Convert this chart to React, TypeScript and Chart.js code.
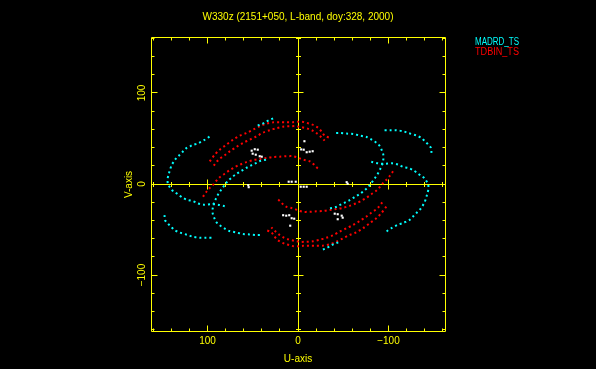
import React, { useEffect, useRef } from "react";
import { Chart, registerables } from "chart.js";

Chart.register(...registerables);

// ---------- text ----------
const TITLE = "W330z (2151+050, L-band, doy:328, 2000)";
const X_AXIS_TITLE = "U-axis";
const Y_AXIS_TITLE = "V-axis";
const SERIES_NAMES = ["MADRD_TS", "TDBIN_TS"];
const SERIES_COLORS = ["#00ffff", "#ff0000"];
const EXTRA_COLOR = "#ffffff";

// ---------- axes ----------
const U_LIMIT = 162.5;
const V_LIMIT = 161.5;
const X_TICK_VALUES = [100, 0, -100];
const X_TICK_LABELS = ["100", "0", "\u2212100"];
const Y_TICK_VALUES = [100, 0, -100];
const Y_TICK_LABELS = ["100", "0", "\u2212100"];
const MINOR_TICKS = [-160, -140, -120, -100, -80, -60, -40, -20, 0, 20, 40, 60, 80, 100, 120, 140, 160];
const MAJOR_TICKS = [-100, 0, 100];

// ---------- data: [u, v] in kilo-lambda ----------
// MADRD_TS
const MADRD_A = [[97.9,52.0],[103.4,48.4],[110.8,44.6],[116.4,42.9],[120.0,41.0],[123.8,39.1],[127.4,35.5],[131.0,31.9],[134.8,28.1],[137.3,24.5],[139.6,20.9],[141.0,17.1],[142.1,13.5],[143.2,9.9],[144.0,6.2],[144.0,0.7],[142.1,-3.0],[139.6,-6.6],[136.6,-8.5],[132.9,-11.4],[127.4,-15.1],[121.9,-17.6],[116.4,-18.7],[110.8,-21.3],[104.2,-22.7],[96.5,-22.2],[88.7,-22.7],[81.0,-24.4]];
const MADRD_A_CONJ = [[-97.9,-52.0],[-103.4,-48.4],[-110.8,-44.6],[-116.4,-42.9],[-120.0,-41.0],[-123.8,-39.1],[-127.4,-35.5],[-131.0,-31.9],[-134.8,-28.1],[-137.3,-24.5],[-139.6,-20.9],[-141.0,-17.1],[-142.1,-13.5],[-143.2,-9.9],[-144.0,-6.2],[-144.0,-0.7],[-142.1,3.0],[-139.6,6.6],[-136.6,8.5],[-132.9,11.4],[-127.4,15.1],[-121.9,17.6],[-116.4,18.7],[-110.8,21.3],[-104.2,22.7],[-96.5,22.2],[-88.7,22.7],[-81.0,24.4]];
const MADRD_B = [[35.4,26.7],[41.2,25.6],[45.6,23.4],[51.2,20.7],[56.7,17.9],[62.2,14.6],[67.7,11.3],[72.2,8.0],[76.6,4.2],[79.6,0.9],[85.1,-6.6],[88.7,-12.1],[90.6,-15.8],[93.1,-21.3],[94.3,-26.8],[94.3,-32.3],[93.1,-35.9],[90.6,-41.4],[86.9,-45.1],[81.3,-48.8],[75.8,-51.6],[68.5,-53.2],[61.1,-54.9],[53.7,-55.4],[46.4,-56.0],[39.0,-56.0]];
const MADRD_B_CONJ = [[-35.4,-26.7],[-41.2,-25.6],[-45.6,-23.4],[-51.2,-20.7],[-56.7,-17.9],[-62.2,-14.6],[-67.7,-11.3],[-72.2,-8.0],[-76.6,-4.2],[-79.6,-0.9],[-85.1,6.6],[-88.7,12.1],[-90.6,15.8],[-93.1,21.3],[-94.3,26.8],[-94.3,32.3],[-93.1,35.9],[-90.6,41.4],[-86.9,45.1],[-81.3,48.8],[-75.8,51.6],[-68.5,53.2],[-61.1,54.9],[-53.7,55.4],[-46.4,56.0],[-39.0,56.0]];
const MADRD_C = [[147.6,-34.1],[147.0,-39.6],[144.0,-43.3],[140.3,-46.9],[136.6,-50.5],[131.0,-53.2],[121.9,-56.0],[116.4,-57.9],[109.0,-59.0],[101.7,-59.0],[92.4,-59.0]];
const MADRD_C_CONJ = [[-147.6,34.1],[-147.0,39.6],[-144.0,43.3],[-140.3,46.9],[-136.6,50.5],[-131.0,53.2],[-121.9,56.0],[-116.4,57.9],[-109.0,59.0],[-101.7,59.0],[-92.4,59.0]];
const MADRD_D = [[44.5,64.1],[39.0,66.3],[35.1,68.5],[29.6,71.2],[24.6,72.9]];
const MADRD_D_CONJ = [[-44.5,-64.1],[-39.0,-66.3],[-35.1,-68.5],[-29.6,-71.2],[-24.6,-72.9]];

// TDBIN_TS
const TDBIN_A = [[97.6,24.8],[92.0,32.2],[86.5,37.7],[79.1,43.2],[71.8,48.7],[64.4,53.1],[57.0,56.0],[49.7,59.7],[42.3,63.3],[34.9,66.3],[27.6,67.7],[20.2,67.9],[12.8,67.9],[5.5,67.9],[-0.8,68.5],[-7.1,67.9],[-12.6,66.3],[-17.3,64.6],[-22.1,61.9],[-25.9,57.8],[-29.5,53.1],[-36.1,50.3]];
const TDBIN_A_CONJ = [[-97.6,-24.8],[-92.0,-32.2],[-86.5,-37.7],[-79.1,-43.2],[-71.8,-48.7],[-64.4,-53.1],[-57.0,-56.0],[-49.7,-59.7],[-42.3,-63.3],[-34.9,-66.3],[-27.6,-67.7],[-20.2,-67.9],[-12.8,-67.9],[-5.5,-67.9],[0.8,-68.5],[7.1,-67.9],[12.6,-66.3],[17.3,-64.6],[22.1,-61.9],[25.9,-57.8],[29.5,-53.1],[36.1,-50.3]];
const TDBIN_B = [[93.1,20.1],[89.8,24.5],[86.5,27.8],[81.0,31.6],[75.5,35.8],[68.1,40.7],[60.8,45.1],[53.4,48.7],[46.0,52.3],[38.7,56.4],[31.3,59.1],[23.9,61.3],[16.6,63.0],[9.2,63.5],[2.5,63.5],[-4.1,62.4],[-10.7,60.8],[-16.2,58.6],[-20.7,55.8],[-25.1,52.0],[-29.5,47.6]];
const TDBIN_B_CONJ = [[-93.1,-20.1],[-89.8,-24.5],[-86.5,-27.8],[-81.0,-31.6],[-75.5,-35.8],[-68.1,-40.7],[-60.8,-45.1],[-53.4,-48.7],[-46.0,-52.3],[-38.7,-56.4],[-31.3,-59.1],[-23.9,-61.3],[-16.6,-63.0],[-9.2,-63.5],[-2.5,-63.5],[4.1,-62.4],[10.7,-60.8],[16.2,-58.6],[20.7,-55.8],[25.1,-52.0],[29.5,-47.6]];
const TDBIN_C = [[105.0,-14.0],[101.2,-8.5],[97.6,-4.4],[93.9,-0.8],[90.2,3.6],[86.5,7.5],[81.0,11.3],[75.5,15.2],[69.9,18.5],[64.4,21.2],[57.0,24.0],[49.7,26.2],[42.3,27.5],[34.9,28.6],[27.6,29.7],[20.2,30.0],[12.8,30.5],[5.5,30.5],[0,28.9],[-3.8,27.3],[-7.4,26.4],[-12.6,25.1],[-16.2,22.6],[-19.9,19.0],[-23.6,15.4]];
const TDBIN_C_CONJ = [[-105.0,14.0],[-101.2,8.5],[-97.6,4.4],[-93.9,0.8],[-90.2,-3.6],[-86.5,-7.5],[-81.0,-11.3],[-75.5,-15.2],[-69.9,-18.5],[-64.4,-21.2],[-57.0,-24.0],[-49.7,-26.2],[-42.3,-27.5],[-34.9,-28.6],[-27.6,-29.7],[-20.2,-30.0],[-12.8,-30.5],[-5.5,-30.5],[0,-28.9],[3.8,-27.3],[7.4,-26.4],[12.6,-25.1],[16.2,-22.6],[19.9,-19.0],[23.6,-15.4]];

// short baseline (white, unlabelled)
const EXTRA_POINTS = [[51.2,36.6],[47.8,38.2],[44.5,37.7],[50.1,33.3],[46.7,32.2],[42.3,30.5],[40.1,30.0],[-3.5,38.0],[-6.3,37.7],[-9.6,34.9],[-12.9,35.5],[-16.2,36.0],[-7.1,47.0],[10.3,2.5],[7.0,2.5],[2.5,2.5],[-3.0,-3.0],[-6.3,-3.0],[-9.6,-3.0],[-53.8,2.0],[-54.9,0.3],[55.0,-1.3],[54.5,-3.5],[16.4,-34.3],[13.0,-34.8],[9.7,-34.3],[7.0,-37.6],[4.2,-38.1],[8.6,-45.8],[-40.6,-32.6],[-43.9,-33.2],[-48.3,-34.8],[-49.4,-37.0],[-43.9,-38.7]];

const SERIES_SEGMENTS = [
  [MADRD_A, MADRD_A_CONJ, MADRD_B, MADRD_B_CONJ, MADRD_C, MADRD_C_CONJ, MADRD_D, MADRD_D_CONJ],
  [TDBIN_A, TDBIN_A_CONJ, TDBIN_B, TDBIN_B_CONJ, TDBIN_C, TDBIN_C_CONJ],
];

const YELLOW = "#ffff00";
const FONT = "10px 'Liberation Sans', Arial, sans-serif";

const crisp = (p: number) => Math.floor(p) + 0.5;

const pgplotFrame = {
  id: "pgplotFrame",
  beforeDraw(chart: any) {
    const ctx = chart.ctx;
    ctx.save();
    ctx.fillStyle = "#000";
    ctx.fillRect(0, 0, chart.width, chart.height);
    ctx.restore();
  },
  beforeDatasetsDraw(chart: any) {
    const ctx = chart.ctx;
    const xs = chart.scales.x;
    const ys = chart.scales.y;
    const L = crisp(xs.getPixelForValue(U_LIMIT));
    const R = crisp(xs.getPixelForValue(-U_LIMIT));
    const T = crisp(ys.getPixelForValue(V_LIMIT));
    const B = crisp(ys.getPixelForValue(-V_LIMIT));
    const x0 = crisp(xs.getPixelForValue(0));
    const y0 = crisp(ys.getPixelForValue(0));
    ctx.save();
    ctx.strokeStyle = YELLOW;
    ctx.lineWidth = 1;
    ctx.beginPath();
    ctx.rect(L, T, R - L, B - T);
    ctx.moveTo(L, y0);
    ctx.lineTo(R, y0);
    ctx.moveTo(x0, T);
    ctx.lineTo(x0, B);
    for (const u of MINOR_TICKS) {
      const px = crisp(xs.getPixelForValue(u));
      const major = MAJOR_TICKS.includes(u);
      const len = major ? 6 : 3;
      ctx.moveTo(px, T);
      ctx.lineTo(px, T + len);
      ctx.moveTo(px, B);
      ctx.lineTo(px, B - len);
      if (u !== 0) {
        const h = major ? 5 : 2.5;
        ctx.moveTo(px, y0 - h);
        ctx.lineTo(px, y0 + h);
      }
    }
    for (const v of MINOR_TICKS) {
      const py = crisp(ys.getPixelForValue(v));
      const major = MAJOR_TICKS.includes(v);
      const len = major ? 6 : 3;
      ctx.moveTo(L, py);
      ctx.lineTo(L + len, py);
      ctx.moveTo(R, py);
      ctx.lineTo(R - len, py);
      if (v !== 0) {
        const h = major ? 5 : 2.5;
        ctx.moveTo(x0 - h, py);
        ctx.lineTo(x0 + h, py);
      }
    }
    ctx.stroke();
    ctx.restore();
  },
  afterDraw(chart: any) {
    const ctx = chart.ctx;
    const xs = chart.scales.x;
    const ys = chart.scales.y;
    const area = chart.chartArea;
    const cx = (area.left + area.right) / 2;
    ctx.save();
    ctx.font = FONT;
    ctx.fillStyle = YELLOW;
    ctx.textBaseline = "alphabetic";
    ctx.textAlign = "center";
    ctx.fillText(TITLE, cx, 20, 202);
    X_TICK_VALUES.forEach((u, i) => {
      ctx.fillText(X_TICK_LABELS[i], xs.getPixelForValue(u), 343.5);
    });
    ctx.fillText(X_AXIS_TITLE, cx, 362);
    Y_TICK_VALUES.forEach((v, i) => {
      ctx.save();
      ctx.translate(145, ys.getPixelForValue(v));
      ctx.rotate(-Math.PI / 2);
      ctx.fillText(Y_TICK_LABELS[i], 0, 0);
      ctx.restore();
    });
    ctx.save();
    ctx.translate(131.5, (area.top + area.bottom) / 2 + 0.5);
    ctx.rotate(-Math.PI / 2);
    ctx.fillText(Y_AXIS_TITLE, 0, 0);
    ctx.restore();
    ctx.textAlign = "left";
    SERIES_NAMES.forEach((name, i) => {
      ctx.fillStyle = SERIES_COLORS[i];
      ctx.fillText(name, 475, 44.5 + i * 10, 44);
    });
    ctx.restore();
  },
};

export default function App() {
  const ref = useRef<HTMLCanvasElement>(null);
  useEffect(() => {
    document.body.style.margin = "0";
    document.body.style.background = "#000";
    const datasets: any[] = [];
    SERIES_SEGMENTS.forEach((segments, si) => {
      segments.forEach((seg) => {
        datasets.push({
          label: SERIES_NAMES[si],
          data: seg.map(([x, y]) => ({ x, y })),
          showLine: true,
          borderColor: SERIES_COLORS[si],
          backgroundColor: SERIES_COLORS[si],
          borderWidth: 2,
          borderDash: [2, 3],
          borderCapStyle: "butt",
          tension: 0.3,
          pointRadius: 0,
          fill: false,
        });
      });
    });
    datasets.push({
      label: "",
      data: EXTRA_POINTS.map(([x, y]) => ({ x, y })),
      showLine: false,
      pointStyle: "rect",
      pointRadius: 1.5,
      pointBorderWidth: 0,
      backgroundColor: EXTRA_COLOR,
      borderColor: EXTRA_COLOR,
    });
    const chart = new Chart(ref.current as HTMLCanvasElement, {
      type: "scatter",
      data: { datasets },
      options: {
        responsive: false,
        animation: false,
        devicePixelRatio: 1,
        events: [],
        layout: { padding: { left: 151, right: 151, top: 37, bottom: 38 } },
        scales: {
          x: { type: "linear", display: false, reverse: true, min: -U_LIMIT, max: U_LIMIT },
          y: { type: "linear", display: false, min: -V_LIMIT, max: V_LIMIT },
        },
        plugins: {
          legend: { display: false },
          title: { display: false },
          tooltip: { enabled: false },
        },
      } as any,
      plugins: [pgplotFrame],
    });
    return () => chart.destroy();
  }, []);
  return (
    <div style={{ position: "fixed", left: 0, top: 0, width: 596, height: 369, background: "#000" }}>
      <canvas ref={ref} width={596} height={369} style={{ display: "block", width: 596, height: 369 }} />
    </div>
  );
}
